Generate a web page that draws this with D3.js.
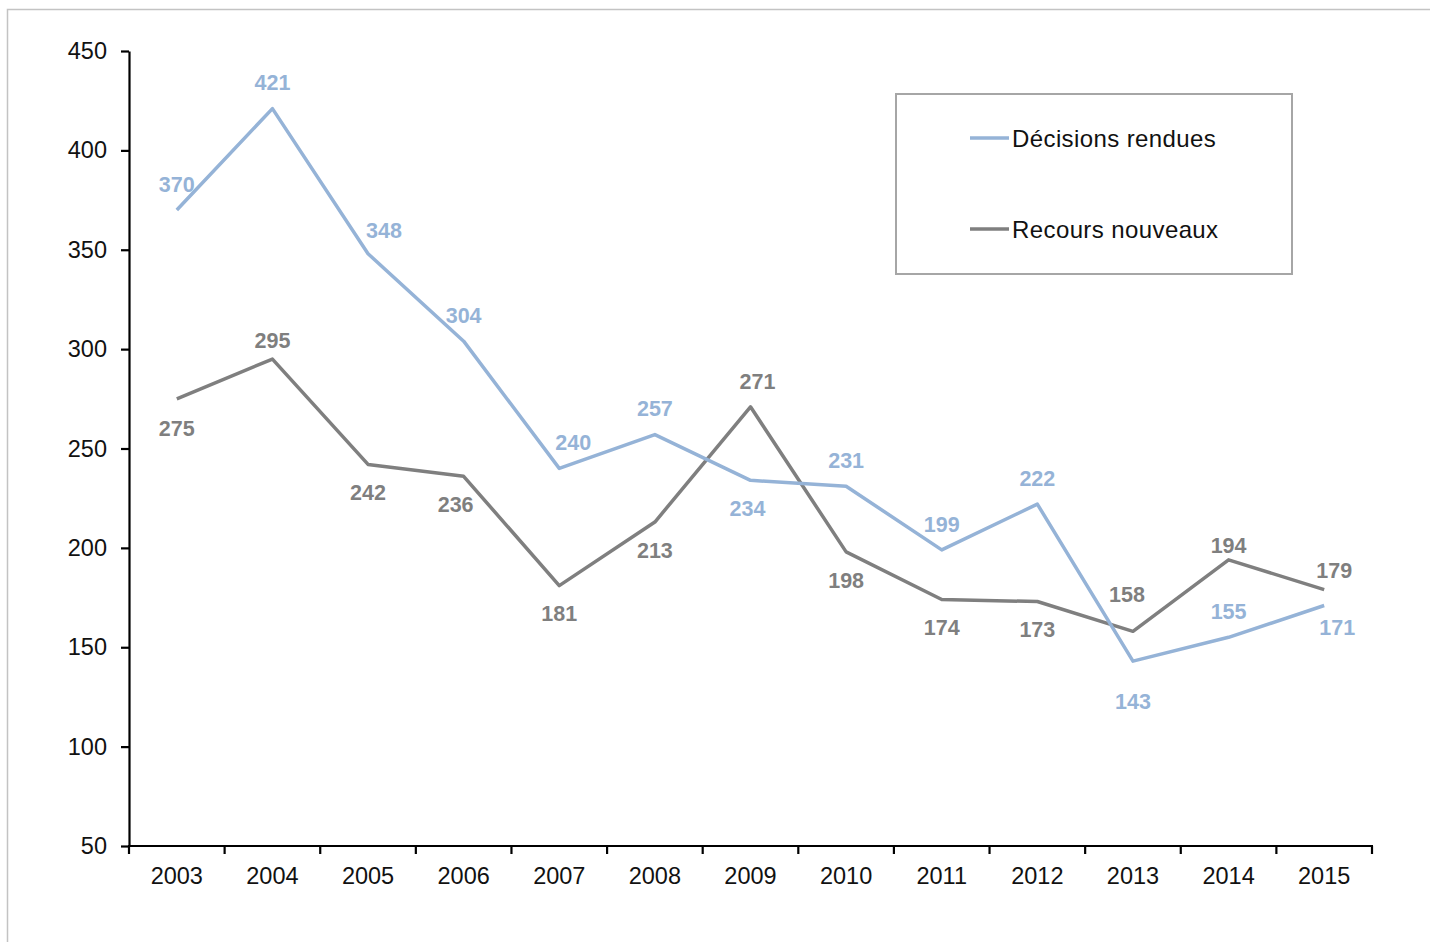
<!DOCTYPE html>
<html>
<head>
<meta charset="utf-8">
<script src="https://cdn.jsdelivr.net/npm/d3@7/dist/d3.min.js"></script>
<style>
  html, body { margin: 0; padding: 0; background: #fff; }
  svg { display: block; font-family: "Liberation Sans", Arial, sans-serif; }
</style>
</head>
<body>
<svg id="chart" width="1430" height="942"></svg>
<script>
// Annual figures
const years = ["2003","2004","2005","2006","2007","2008","2009","2010","2011","2012","2013","2014","2015"];
const decisions = [370, 421, 348, 304, 240, 257, 234, 231, 199, 222, 143, 155, 171];
const recours   = [275, 295, 242, 236, 181, 213, 271, 198, 174, 173, 158, 194, 179];
const yTicks = [50, 100, 150, 200, 250, 300, 350, 400, 450];
const seriesNames = ["Décisions rendues", "Recours nouveaux"];

// Label nudges (dx, dy in px from each point)
const decisionsLabelShift = [[0,-26],[0,-26],[16,-23],[0,-26],[14,-26],[0,-26],[-3,28],[0,-26],[0,-26],[0,-26],[0,40],[0,-26],[13,22]];
const recoursLabelShift   = [[0,29],[0,-19],[0,28],[-8,28],[0,28],[0,28],[7,-26],[0,28],[0,28],[0,28],[-6,-37],[0,-15],[10,-19]];

const blue = "#95b3d7", grey = "#7f7f7f";

const svg = d3.select("#chart");

// outer frame
svg.append("rect").attr("x", 7.5).attr("y", 9.5).attr("width", 1440).attr("height", 960)
  .attr("fill", "none").attr("stroke", "#c3c3c3").attr("stroke-width", 1.5);

const plotLeft = 129, plotRight = 1372, plotTop = 51, plotBottom = 846;

const x = d3.scaleBand().domain(years).range([plotLeft, plotRight]).padding(0);
const y = d3.scaleLinear().domain([50, 450]).range([plotBottom, plotTop]);

// y axis
const yAxis = svg.append("g").attr("transform", `translate(${plotLeft},0)`)
  .call(d3.axisLeft(y).tickValues(yTicks).tickSize(8).tickPadding(14).tickSizeOuter(0));
yAxis.select(".domain").attr("stroke", "#000").attr("stroke-width", 2.2);
yAxis.selectAll(".tick line").attr("stroke", "#000").attr("stroke-width", 2.2);
yAxis.selectAll(".tick text").attr("font-size", 23.5).attr("fill", "#111").attr("font-family", "Liberation Sans, Arial, sans-serif");

// x axis with ticks between categories
const xAxis = svg.append("g").attr("transform", `translate(0,${plotBottom})`);
xAxis.append("line").attr("x1", plotLeft - 1).attr("x2", plotRight + 1).attr("y1", 0).attr("y2", 0)
  .attr("stroke", "#000").attr("stroke-width", 2.2);
const edges = years.map(d => x(d)).concat([plotRight]);
xAxis.selectAll("line.tk").data(edges).join("line").attr("class", "tk")
  .attr("x1", d => d).attr("x2", d => d).attr("y1", 0).attr("y2", 8)
  .attr("stroke", "#000").attr("stroke-width", 2.2);
xAxis.selectAll("text").data(years).join("text")
  .attr("x", d => x(d) + x.bandwidth() / 2).attr("y", 38)
  .attr("text-anchor", "middle").attr("font-size", 23.5).attr("fill", "#111")
  .text(d => d);

const cx = (i) => x(years[i]) + x.bandwidth() / 2;
const line = d3.line().x((d, i) => cx(i)).y(d => y(d));

function drawSeries(values, color, shifts) {
  svg.append("path").datum(values).attr("d", line)
    .attr("fill", "none").attr("stroke", color).attr("stroke-width", 3.5)
    .attr("stroke-linejoin", "round");
  svg.append("g").selectAll("text").data(values).join("text")
    .attr("x", (d, i) => cx(i) + shifts[i][0])
    .attr("y", (d, i) => y(d) + shifts[i][1])
    .attr("dy", "0.36em")
    .attr("text-anchor", "middle").attr("font-size", 21.5).attr("font-weight", "bold")
    .attr("fill", color).text(d => d);
}
drawSeries(recours, grey, recoursLabelShift);
drawSeries(decisions, blue, decisionsLabelShift);

// legend
const lg = svg.append("g");
lg.append("rect").attr("x", 896).attr("y", 94).attr("width", 396).attr("height", 180)
  .attr("fill", "#fff").attr("stroke", "#a6a6a6").attr("stroke-width", 2);
[blue, grey].forEach((c, i) => {
  const yy = 138 + i * 91;
  lg.append("line").attr("x1", 970).attr("x2", 1009).attr("y1", yy).attr("y2", yy)
    .attr("stroke", c).attr("stroke-width", 3.5);
  lg.append("text").attr("x", 1012).attr("y", yy).attr("dy", "0.36em")
    .attr("font-size", 24).attr("fill", "#111").attr("letter-spacing", 0.4)
    .text(seriesNames[i]);
});
</script>
</body>
</html>
